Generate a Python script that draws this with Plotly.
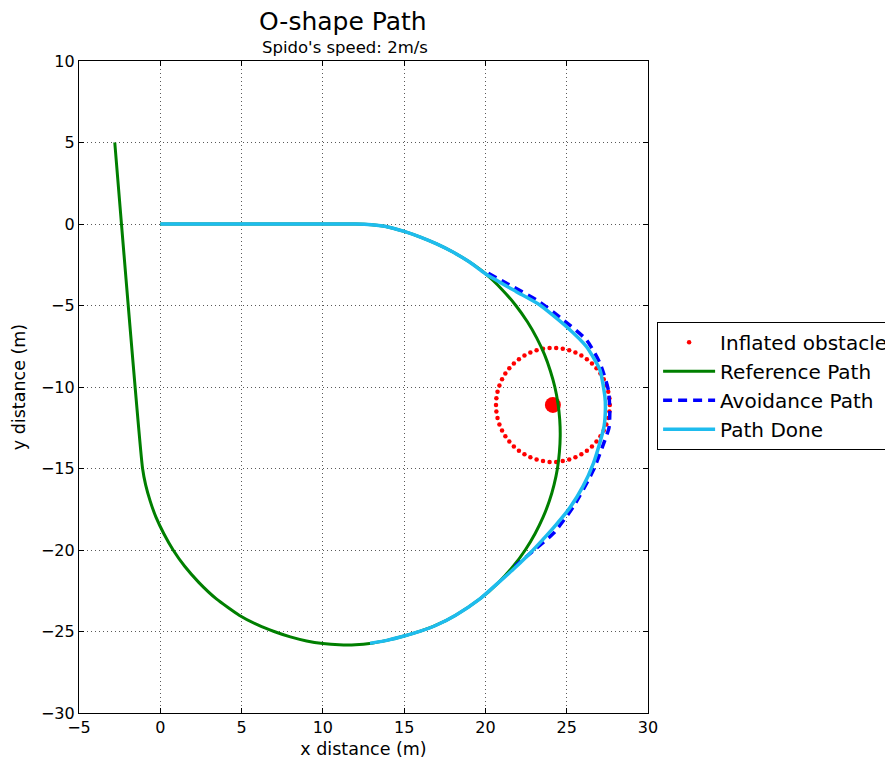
import numpy as np
import plotly.graph_objects as go

# ---------------- data ----------------
# Reference path (green)
ref_x = [0, 6, 12.0, 13.0, 14.0, 15.0, 16.0, 17.0, 18.0, 19.0, 20.0, 21.0, 21.87, 22.58, 23.16,
         23.63, 23.99, 24.27, 24.46, 24.57, 24.6, 24.55, 24.43, 24.22, 23.93, 23.54, 23.05,
         22.45, 21.71, 20.8, 19.66, 18.17, 17.0, 16.0, 15.0, 14.0, 13.0, 12.0, 11.0, 10.0,
         9.0, 8.0, 7.0, 6.0, 4.85, 3.45, 2.38, 1.5, 0.79, 0.22, -0.26, -0.62, -0.9, -1.09,
         -2.8]
ref_y = [0, 0, 0.0, -0.05, -0.18, -0.45, -0.8, -1.22, -1.72, -2.32, -3.05, -4.0, -5.0, -6.0,
         -7.0, -8.0, -9.0, -10.0, -11.0, -12.0, -13.0, -14.0, -15.0, -16.0, -17.0, -18.0,
         -19.0, -20.0, -21.0, -22.0, -23.0, -24.0, -24.6, -24.98, -25.28, -25.53, -25.72,
         -25.82, -25.82, -25.74, -25.58, -25.33, -25.0, -24.6, -24.0, -23.0, -22.0, -21.0,
         -20.0, -19.0, -18.0, -17.0, -16.0, -15.0, 5.0]

# Avoidance path (blue dashed)
avoid_x = [20.18, 21.3, 23.15, 24.79, 26.22, 27.05, 27.56, 27.65, 27.6, 27.35, 26.64, 25.41,
           24.18, 23.0, 21.82]
avoid_y = [-3.02, -3.64, -4.66, -5.89, -7.12, -8.55, -10.18, -11.5, -12.5, -13.25, -15.1,
           -17.34, -18.98, -20.0, -21.0]

# Path done (cyan)
done_x = [0, 6, 12.0, 13.0, 14.0, 15.0, 16.0, 17.0, 18.0, 19.0, 20.0, 21.9, 23.35, 24.99,
          26.22, 27.05, 27.35, 27.38, 27.3, 27.1, 26.64, 26.0, 25.2, 24.3, 23.4, 22.54, 21.7,
          20.8, 19.66, 18.17, 17.0, 16.0, 15.0, 14.0, 12.9]
done_y = [0, 0, 0.0, -0.05, -0.18, -0.45, -0.8, -1.22, -1.72, -2.32, -3.05, -4.15, -4.97,
          -6.3, -7.53, -8.96, -10.6, -11.3, -12.4, -13.2, -14.68, -16.1, -17.4, -18.5, -19.5,
          -20.4, -21.2, -22.0, -23.0, -24.0, -24.6, -24.98, -25.28, -25.53, -25.73]

# Obstacle
obstacle_center = (24.15, -11.1)
obstacle_radius = 3.5
n_inflated = 54

theta = np.linspace(0, 2 * np.pi, n_inflated, endpoint=False)
obs_x = obstacle_center[0] + obstacle_radius * np.cos(theta)
obs_y = obstacle_center[1] + obstacle_radius * np.sin(theta)

FONT = "DejaVu Sans"

fig = go.Figure()
fig.add_trace(go.Scatter(x=obs_x, y=obs_y, mode="markers", name="Inflated obstacle",
                         marker=dict(color="#ff0000", size=4.5)))
fig.add_trace(go.Scatter(x=[obstacle_center[0]], y=[obstacle_center[1]], mode="markers",
                         showlegend=False, marker=dict(color="#ff0000", size=16)))
fig.add_trace(go.Scatter(x=ref_x, y=ref_y, mode="lines", name="Reference Path",
                         line=dict(color="#007f00", width=3, shape="spline", smoothing=0.5)))
fig.add_trace(go.Scatter(x=avoid_x, y=avoid_y, mode="lines", name="Avoidance Path",
                         line=dict(color="#0000ff", width=3.5, dash="9px,6px", shape="spline",
                                   smoothing=0.6)))
fig.add_trace(go.Scatter(x=done_x, y=done_y, mode="lines", name="Path Done",
                         line=dict(color="#1ebcee", width=3.5, shape="spline", smoothing=0.5)))

axis_common = dict(
    showline=True, linecolor="black", linewidth=1.3, mirror="ticks",
    ticks="inside", ticklen=5, tickcolor="black",
    showgrid=True, gridcolor="rgba(0,0,0,0.65)", gridwidth=1, griddash="1px,3px",
    zeroline=False, tickfont=dict(family=FONT, size=16, color="black"),
)

fig.update_xaxes(range=[-5, 30], dtick=5,
                 title=dict(text="x distance (m)", font=dict(family=FONT, size=17.5, color="black"),
                            standoff=6),
                 **axis_common)
fig.update_yaxes(range=[-30, 10], dtick=5,
                 title=dict(text="y distance (m)", font=dict(family=FONT, size=17.5, color="black"),
                            standoff=10),
                 **axis_common)

fig.update_layout(
    width=893, height=765,
    margin=dict(l=71, r=253, t=53, b=60, autoexpand=False),
    paper_bgcolor="white", plot_bgcolor="white",
    font=dict(family=FONT, color="black"),
    showlegend=True,
    legend=dict(x=1.016, y=0.6, xanchor="left", yanchor="top",
                bordercolor="black", borderwidth=1, bgcolor="white",
                font=dict(family=FONT, size=20, color="black"),
                itemwidth=52, tracegroupgap=0),
    annotations=[
        dict(text="O-shape Path", x=0.464, y=1.06, xref="paper", yref="paper",
             xanchor="center", yanchor="middle", showarrow=False,
             font=dict(family=FONT, size=25, color="black")),
        dict(text="Spido's speed: 2m/s", x=0.468, y=1.02, xref="paper", yref="paper",
             xanchor="center", yanchor="middle", showarrow=False,
             font=dict(family=FONT, size=16.5, color="black")),
    ],
)

fig.write_html("out.html")
